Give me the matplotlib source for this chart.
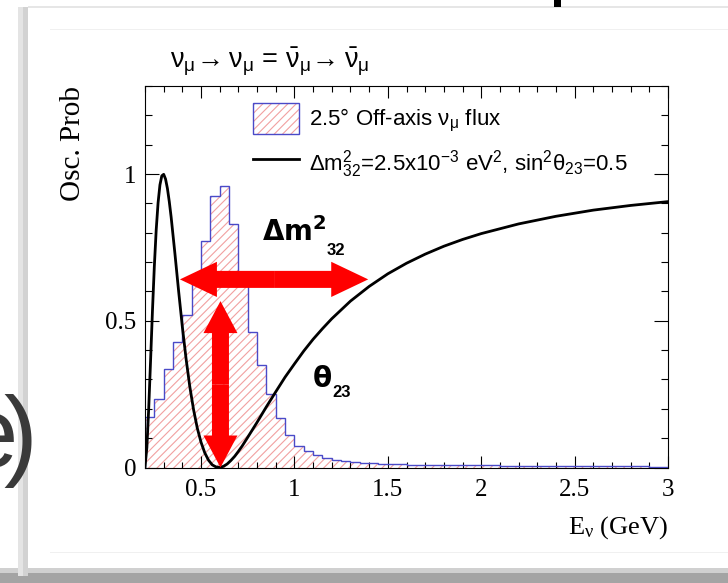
import numpy as np
import matplotlib
matplotlib.use("Agg")
import matplotlib.pyplot as plt
from matplotlib.patches import FancyArrow, Patch, Rectangle
from matplotlib.lines import Line2D
from matplotlib.legend_handler import HandlerTuple
from matplotlib.ticker import MultipleLocator

# ── survival probability curve ──────────────────────────────────────
energy = [0.20, 0.21, 0.22, 0.23, 0.24, 0.25, 0.26, 0.27, 0.28, 0.29,
          0.30, 0.31, 0.32, 0.33, 0.34, 0.36, 0.38, 0.40, 0.42, 0.44,
          0.46, 0.48, 0.50, 0.52, 0.54, 0.56, 0.58, 0.60, 0.62, 0.64,
          0.66, 0.68, 0.70, 0.72, 0.75, 0.80, 0.85, 0.90, 0.95, 1.00,
          1.05, 1.10, 1.15, 1.20, 1.30, 1.40, 1.50, 1.60, 1.70, 1.80,
          1.90, 2.00, 2.20, 2.40, 2.60, 2.80, 3.00]
survival_prob = [0.002, 0.068, 0.203, 0.367, 0.535, 0.686, 0.810, 0.902, 0.963, 0.994,
                 0.999, 0.983, 0.951, 0.906, 0.853, 0.730, 0.601, 0.479, 0.370, 0.275,
                 0.197, 0.134, 0.086, 0.050, 0.025, 0.009, 0.002, 0.000, 0.004, 0.012,
                 0.024, 0.038, 0.055, 0.073, 0.103, 0.154, 0.207, 0.258, 0.308, 0.353,
                 0.397, 0.437, 0.473, 0.507, 0.567, 0.617, 0.660, 0.696, 0.727, 0.754,
                 0.777, 0.797, 0.830, 0.856, 0.877, 0.893, 0.906]

# ── off-axis flux histogram (arbitrary norm), 0.05 GeV bins from 0.2 ─
flux_edges = np.linspace(0.2, 3.0, 57)
flux = [0.172, 0.235, 0.335, 0.426, 0.520, 0.640, 0.772, 0.926, 0.960, 0.829,
        0.635, 0.463, 0.349, 0.252, 0.170, 0.110, 0.072, 0.056, 0.043, 0.033,
        0.027, 0.023, 0.020, 0.017, 0.015, 0.013, 0.012, 0.011, 0.010, 0.010,
        0.009, 0.009, 0.008, 0.008, 0.008, 0.007, 0.007, 0.007, 0.006, 0.006,
        0.006, 0.006, 0.005, 0.005, 0.005, 0.005, 0.005, 0.004, 0.004, 0.004,
        0.004, 0.004, 0.004, 0.004, 0.003, 0.003]

xtick_vals = [0.5, 1, 1.5, 2, 2.5, 3]
xtick_labels = ["0.5", "1", "1.5", "2", "2.5", "3"]
ytick_vals = [0, 0.5, 1]
ytick_labels = ["0", "0.5", "1"]

HATCH_RED = "#f2a0a0"
HIST_BLUE = "#4a4ac8"
ARROW_RED = "#ff0000"
SANS = "Liberation Sans"

plt.rcParams["font.family"] = "Liberation Serif"
plt.rcParams["mathtext.default"] = "regular"
plt.rcParams["hatch.linewidth"] = 0.8

W, H = 728, 583
fig = plt.figure(figsize=(W / 100, H / 100), dpi=100)


def px_rect(x0, y0, x1, y1, **kw):
    """Rectangle given in pixel coords measured from the top-left."""
    r = Rectangle((x0 / W, 1 - y1 / H), (x1 - x0) / W, (y1 - y0) / H,
                  transform=fig.transFigure, lw=0, **kw)
    fig.add_artist(r)


# slide frame around the embedded plot
px_rect(0, 573, W, H, color="#a4a4a4", zorder=0)
px_rect(0, 568, W, 573, color="#d0d0d0", zorder=0)
px_rect(18, 7, 28, 576, color="#e4e4e4", zorder=0)
px_rect(23, 7, 28, 576, color="#d2d2d2", zorder=0)
px_rect(28, 7, W, 568, color="white", zorder=0)
px_rect(28, 6, W, 7.5, color="#e6e6e6", zorder=0)
px_rect(50, 29, W, 30, color="#f0f0f0", zorder=0)
px_rect(50, 552, W, 553, color="#f0f0f0", zorder=0)
px_rect(554, 0, 561, 7, color="black", zorder=1)
# slide heading letters, cut by the left edge (tight kerning as on the slide)
fig.text(33 / W, 1 - 467 / H, r"$e\hspace{-0.14})$", fontsize=73, family=SANS,
         color="#3a3a3a", ha="right", va="baseline")

ax = fig.add_axes([145 / W, 1 - 467.5 / H, 523 / W, 381.5 / H])

# flux histogram: pink hatch + blue outline
ax.stairs(flux, flux_edges, fill=True, facecolor="white",
          edgecolor=HATCH_RED, hatch="////", linewidth=0, zorder=1)
ax.stairs(flux, flux_edges, color=HIST_BLUE, linewidth=1.0, zorder=2)

ax.plot(energy, survival_prob, color="black", lw=2.0, zorder=3)

# red double arrows (two halves from the middle)
h_y, h_x0, h_x1 = 0.641, 0.387, 1.395
h_mid = 0.5 * (h_x0 + h_x1)
for tip in (h_x0, h_x1):
    ax.add_patch(FancyArrow(h_mid, h_y, tip - h_mid, 0, width=0.058,
                            head_width=0.12, head_length=0.198,
                            length_includes_head=True, color=ARROW_RED,
                            lw=0, zorder=4))
v_x, v_y0, v_y1 = 0.604, 0.0, 0.567
v_mid = 0.5 * (v_y0 + v_y1)
for tip in (v_y0, v_y1):
    ax.add_patch(FancyArrow(v_x, v_mid, 0, tip - v_mid, width=0.091,
                            head_width=0.182, head_length=0.109,
                            length_includes_head=True, color=ARROW_RED,
                            lw=0, zorder=4))

# parameter labels next to the arrows (subscripts sit low, as on the slide)
dm_txt = ax.text(0.825, 0.772, r"$\mathbf{\Delta m^{2}}$", fontsize=20,
                 family=SANS, fontweight="bold", ha="left", va="baseline", zorder=5)
ax.annotate("32", xy=(1, 0), xycoords=dm_txt, xytext=(0, -5.5),
            textcoords="offset points", fontsize=12, family=SANS,
            fontweight="bold", ha="left", va="baseline", zorder=5)
th_txt = ax.text(1.094, 0.276, r"$\mathbf{\theta}$", fontsize=20,
                 family=SANS, fontweight="bold", ha="left", va="baseline", zorder=5)
ax.annotate("23", xy=(1, 0), xycoords=th_txt, xytext=(0, -3),
            textcoords="offset points", fontsize=12, family=SANS,
            fontweight="bold", ha="left", va="baseline", zorder=5)

ax.set_xlim(0.2, 3.0)
ax.set_ylim(0, 1.3)
ax.set_xticks(xtick_vals, xtick_labels)
ax.set_yticks(ytick_vals, ytick_labels)
ax.xaxis.set_minor_locator(MultipleLocator(0.1))
ax.yaxis.set_minor_locator(MultipleLocator(0.1))
ax.tick_params(which="both", direction="in", top=True, right=True,
               width=0.8, labelsize=18)
ax.tick_params(axis="x", which="major", length=8.5, pad=8)
ax.tick_params(axis="x", which="minor", length=4.3)
ax.tick_params(axis="y", which="major", length=10, pad=6)
ax.tick_params(axis="y", which="minor", length=5)
for sp in ax.spines.values():
    sp.set_linewidth(0.8)

ax.set_xlabel(r"E$_{\nu}$ (GeV)", loc="right", fontsize=19, labelpad=10)
ax.set_ylabel("Osc. Prob", loc="top", fontsize=21)
ax.yaxis.set_label_coords(-0.113, 1.0)

fig.text(170 / W, 1 - 67.3 / H,
         r"$\nu_{\mu}\!\rightarrow\nu_{\mu}$ = $\bar{\nu}_{\mu}\!\rightarrow\bar{\nu}_{\mu}$",
         fontsize=19.5, family=SANS, ha="left", va="baseline")

hatch_box = Patch(facecolor="white", edgecolor=HATCH_RED, hatch="////", lw=0)
outline_box = Patch(facecolor="none", edgecolor=HIST_BLUE, lw=1.0)
curve_line = Line2D([], [], color="black", lw=2.0)
ax.legend([(hatch_box, outline_box), curve_line],
          [r"2.5$\degree$ Off-axis $\nu_{\mu}$ flux",
           r"$\Delta m^{2}_{32}$=2.5x10$^{-3}$ eV$^{2}$, sin$^{2}\theta_{23}$=0.5"],
          handler_map={tuple: HandlerTuple(ndivide=1, pad=0)},
          loc="upper left", bbox_to_anchor=(0.2065, 0.955), borderaxespad=0,
          borderpad=0, frameon=False, handlelength=2.05, handleheight=1.73,
          handletextpad=0.45, labelspacing=0.62,
          prop={"family": SANS, "size": 16})

fig.savefig("out.png", dpi=100)
